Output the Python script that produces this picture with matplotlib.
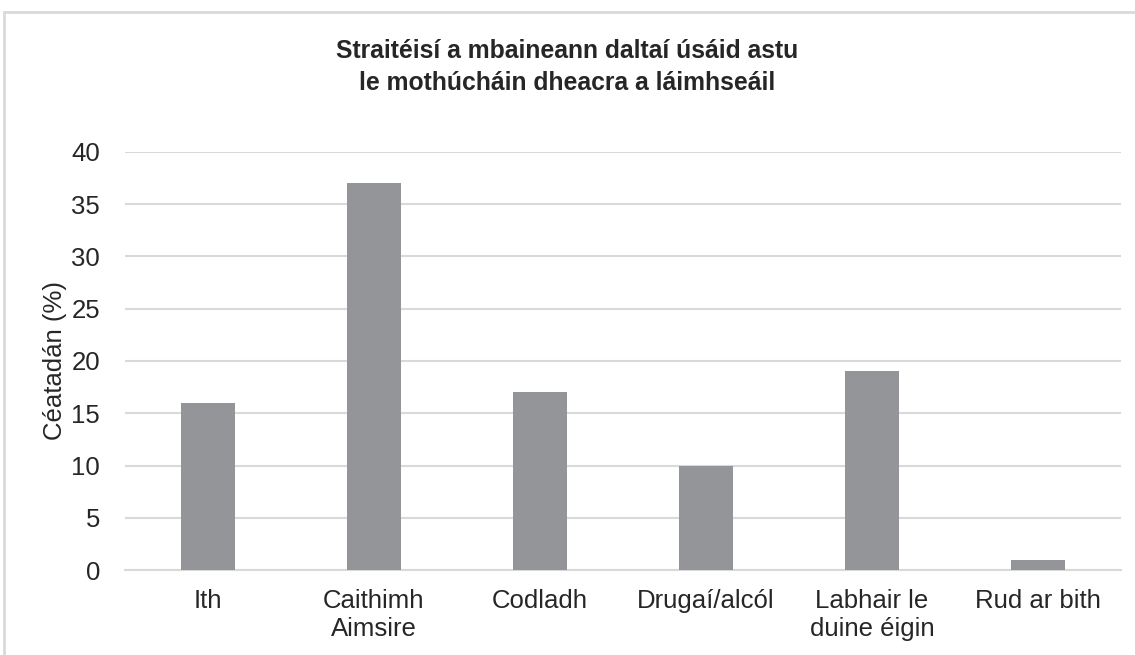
import matplotlib.pyplot as plt
from matplotlib.patches import Rectangle
import numpy as np

plt.rcParams['font.family'] = ['Liberation Sans', 'DejaVu Sans']

categories = ['Ith', 'Caithimh\nAimsire', 'Codladh', 'Drugaí/alcól', 'Labhair le\nduine éigin', 'Rud ar bith']
values = [16, 37, 17, 10, 19, 1]
yticks = [0, 5, 10, 15, 20, 25, 30, 35, 40]

fig = plt.figure(figsize=(11.35, 6.55), dpi=100)
ax = fig.add_axes([125 / 1135, 1 - 570 / 655, (1121 - 125) / 1135, (570 - 152) / 655])

# chart border (right/bottom edges fall off the image)
fig.patches.append(Rectangle((4 / 1135, -0.1), 1.2, 1 - 12 / 655 + 0.1, transform=fig.transFigure,
                             fill=False, edgecolor='#d9d9d9', linewidth=2))

x = np.arange(len(categories))
ax.bar(x, values, width=0.32, color='#939598', zorder=3)

ax.set_xlim(-0.5, len(categories) - 0.5)
ax.set_ylim(0, 40)
ax.set_yticks(yticks)
ax.set_xticks(x)
ax.set_xticklabels(categories, fontsize=18.5, color='#262626', linespacing=1.17)
ax.tick_params(axis='y', labelsize=18.5, labelcolor='#262626', length=0, pad=18)
ax.tick_params(axis='x', length=0, pad=14)
ax.grid(axis='y', color='#d9d9d9', linewidth=1.5, zorder=0)
for s in ['top', 'right', 'left']:
    ax.spines[s].set_visible(False)
ax.spines['bottom'].set_color('#d9d9d9')
ax.spines['bottom'].set_linewidth(1.5)

ax.set_ylabel('Céatadán (%)', fontsize=18.5, color='#262626', labelpad=3)

fig.text(0.5, 1 - 67 / 655, 'Straitéisí a mbaineann daltaí úsáid astu\nle mothúcháin dheacra a láimhseáil',
         ha='center', va='center', fontsize=17.8, fontweight='bold', color='#262626', linespacing=1.37)

fig.savefig('out.png', dpi=100)
